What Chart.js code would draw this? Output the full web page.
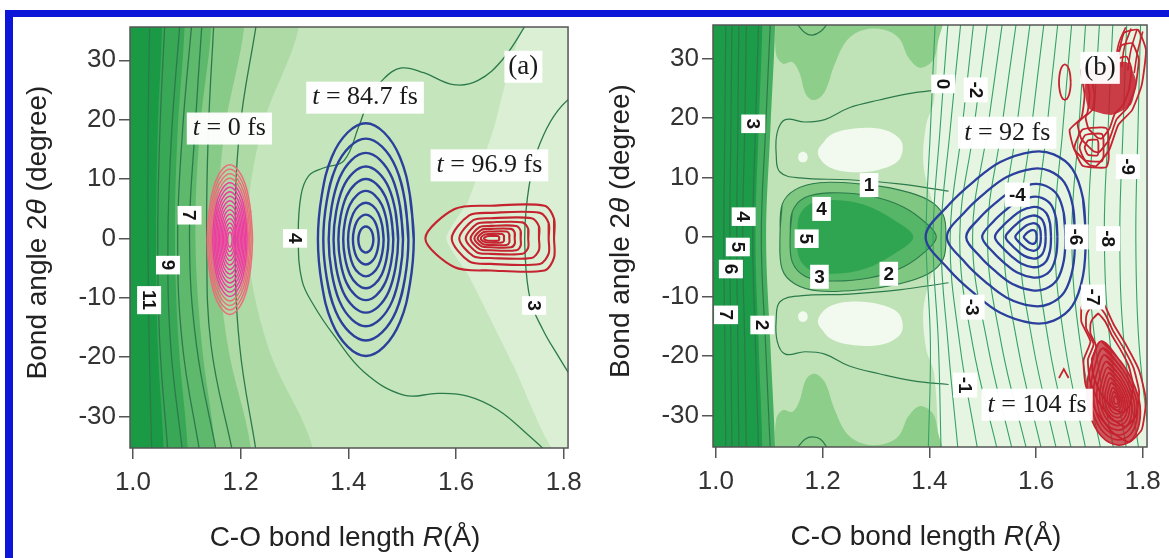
<!DOCTYPE html>
<html>
<head>
<meta charset="utf-8">
<script src="https://cdn.jsdelivr.net/npm/chart.js@4.4.1/dist/chart.umd.min.js"></script>
<style>
  html, body { margin: 0; padding: 0; background: #fff; }
  #stage { position: relative; width: 1169px; height: 558px; overflow: hidden; background: #fff; }
  #panelA { position: absolute; left: 0; top: 0; }
  #panelB { position: absolute; left: 590px; top: 0; }
  .bar { position: absolute; background: #0b16d8; }
  .bar.top { left: 5px; top: 10px; width: 1164px; height: 7px; }
  .bar.left { left: 5px; top: 10px; width: 8px; height: 548px; }
</style>
</head>
<body>
<div id="stage">
  <canvas id="panelA" width="590" height="558"></canvas>
  <canvas id="panelB" width="579" height="558"></canvas>
  <div class="bar top"></div>
  <div class="bar left"></div>
</div>
<script>
// ---------- axes ----------
const rTicks = [1.0, 1.2, 1.4, 1.6, 1.8];
const angleTicks = [-30, -20, -10, 0, 10, 20, 30];
const rRange = [0.9945, 1.808];
const angleRange = [-35.3, 35.6];

// angles (degree) at which the near-vertical contours are sampled
const sweep = [36, 18, 0, -18, -36];

// ---------- panel (a): potential surface ----------
const aBaseColor = '#c5e6bc';
const aBandColors = ['#1b9a46', '#38a857', '#5fb96c', '#88ca87', '#aedaa6'];
const aBandEdges = [
  [1.054, 1.046, 1.043, 1.046, 1.057],
  [1.096, 1.083, 1.078, 1.085, 1.102],
  [1.146, 1.124, 1.116, 1.128, 1.153],
  [1.207, 1.170, 1.157, 1.176, 1.220],
  [1.309, 1.238, 1.213, 1.250, 1.336]
];
const aWedgeR = [1.734, 1.900, 1.900, 1.789, 1.706, 1.623, 1.582, 1.623, 1.669];
const aWedgeAngle = [36.6, 36.6, -36.6, -36.6, -21.3, -6.2, 0, 6.4, 18.2];
const aWedgeColor = '#daefd4';

// contour levels 11 ... 5 on the repulsive wall
const aWallLines = [
  [1.031, 1.028, 1.028, 1.030, 1.035],
  [1.059, 1.050, 1.046, 1.050, 1.065],
  [1.087, 1.072, 1.065, 1.070, 1.092],
  [1.109, 1.092, 1.083, 1.092, 1.124],
  [1.128, 1.115, 1.105, 1.118, 1.155],
  [1.150, 1.140, 1.137, 1.145, 1.185],
  [1.229, 1.198, 1.190, 1.198, 1.229]
];
const aLine4R = [1.734, 1.688, 1.641, 1.595, 1.540, 1.499, 1.466, 1.438, 1.420, 1.392, 1.355, 1.327, 1.312,
  1.307, 1.314, 1.336, 1.373, 1.429, 1.503, 1.567, 1.623, 1.678, 1.734, 1.775];
const aLine4Angle = [36.6, 30.3, 26.6, 25.9, 27.9, 28.7, 26.9, 23.2, 19.0, 13.1, 11.9, 10.6, 7.2,
  0, -7.1, -11.3, -16.3, -22.5, -26.4, -26.1, -26.6, -28.9, -33.1, -36.5];
const aLine3R = [1.826, 1.789, 1.762, 1.743, 1.730, 1.728, 1.738, 1.762, 1.789, 1.823];
const aLine3Angle = [24.9, 21.5, 17.3, 12.3, 4.7, -2.0, -10.4, -15.5, -19.7, -24.7];

// wave packets in (a)
const pinkCenter = [1.180, -0.2];
const pinkHalf = [0.042, 12.6];
const pinkScale = [1, 0.94, 0.88, 0.82, 0.76, 0.70, 0.64, 0.58, 0.52, 0.46, 0.40, 0.34, 0.28, 0.22, 0.16, 0.10];
const blueACenter = [1.4325, -0.2];
const blueAHalfWidth = [0.089, 0.079, 0.069, 0.060, 0.051, 0.042, 0.033, 0.024, 0.014];
const blueAHalfHeight = [19.6, 17.0, 14.6, 12.3, 10.2, 8.2, 6.2, 4.2, 2.2];
const redACenter = [1.664, 0];
const redALeft = [0.121, 0.072, 0.058, 0.046, 0.037, 0.030, 0.024, 0.018, 0.012];
const redARight = [0.118, 0.108, 0.090, 0.070, 0.056, 0.045, 0.035, 0.025, 0.016];
const redAUp = [5.5, 4.3, 3.4, 2.7, 2.1, 1.6, 1.15, 0.75, 0.4];
const redADown = [5.4, 4.3, 3.3, 2.6, 2.0, 1.5, 1.1, 0.7, 0.4];

const aTimeText = ['0', '84.7', '96.9'];
const aTimeR = [1.179, 1.431, 1.662];
const aTimeAngle = [18.5, 23.7, 12.3];
const aLabelText = ['11', '9', '7', '4', '3'];
const aLabelR = [1.030, 1.065, 1.105, 1.301, 1.745];
const aLabelAngle = [-10.4, -4.5, 3.9, 0, -11.3];
const aLabelTurn = [true, true, true, true, true];

// ---------- panel (b): potential surface ----------
const bBaseColor = '#bfe3b7';
const bDarkEdge = [1.087, 1.080, 1.074, 1.080, 1.087];
const bStripEdge = [1.111, 1.102, 1.094, 1.102, 1.111];
const bWallLines = [
  [1.0185, 1.0167, 1.0148, 1.0167, 1.0185],
  [1.030, 1.028, 1.026, 1.028, 1.030],
  [1.043, 1.041, 1.039, 1.041, 1.043],
  [1.057, 1.054, 1.050, 1.054, 1.057],
  [1.080, 1.074, 1.069, 1.074, 1.080],
  [1.102, 1.093, 1.085, 1.093, 1.102]
];
const bLobeEdgeR = [1.111, 1.113, 1.126, 1.143, 1.156, 1.169, 1.185, 1.204, 1.222, 1.246, 1.278, 1.315, 1.343, 1.361, 1.383, 1.407, 1.417, 1.426];
const bLobeEdgeAngle = [36.5, 30.6, 29.1, 29.4, 27.7, 23.9, 23.0, 24.4, 28.9, 33.1, 34.8, 34.8, 33.4, 30.1, 28.4, 29.7, 33.1, 36.5];
const bBlobR = [1.191, 1.213, 1.259, 1.315, 1.348, 1.343, 1.306, 1.250, 1.209];
const bBlobAngle = [14.3, 17.0, 18.2, 18.0, 16.0, 12.9, 11.3, 10.9, 11.9];
const bDotCenter = [1.163, 13.4];
const bBracketR = [1.436, 1.370, 1.306, 1.250, 1.204, 1.167, 1.130, 1.115, 1.113, 1.120, 1.157, 1.250, 1.343, 1.436];
const bBracketAngle = [24.8, 24.2, 23.0, 21.7, 19.7, 19.3, 19.7, 17.6, 13.8, 10.9, 9.9, 9.6, 8.9, 7.7];
const bLobeAR = [1.120, 1.124, 1.148, 1.194, 1.269, 1.343, 1.398, 1.426, 1.431];
const bLobeAAngle = [0, 5.4, 7.9, 9.1, 8.9, 7.9, 6.2, 3.7, 0];
const bLobeBR = [1.139, 1.143, 1.167, 1.213, 1.287, 1.352, 1.398, 1.413];
const bLobeBAngle = [0, 4.2, 6.6, 7.4, 6.9, 5.0, 2.0, 0];
const bLobeCR = [1.152, 1.157, 1.180, 1.222, 1.278, 1.333, 1.370];
const bLobeCAngle = [0, 3.7, 5.7, 6.2, 5.4, 2.9, 0];
const bPaleR = [1.417, 1.409, 1.394, 1.389, 1.407, 1.426, 1.407, 1.389, 1.394, 1.409, 1.417];
const bPaleAngle = [36.5, 23, 18.8, 12.1, 5.4, 0, -5.4, -12.1, -18.8, -23, -36.5];
const bArcR = [1.152, 1.167, 1.181, 1.196, 1.209];
const bArcTopAngle = [35.8, 34.3, 33.9, 34.5, 35.8];
const bArcBottomAngle = [-35.5, -34.0, -33.6, -34.0, -35.5];
// contour levels 0 ... -7.5 on the product side
const bPaleLines = [
  [1.411, 1.402, 1.394, 1.402, 1.398],
  [1.435, 1.420, 1.407, 1.417, 1.422],
  [1.459, 1.439, 1.422, 1.435, 1.454],
  [1.483, 1.461, 1.439, 1.457, 1.491],
  [1.509, 1.483, 1.457, 1.481, 1.528],
  [1.537, 1.509, 1.481, 1.509, 1.556],
  [1.563, 1.535, 1.509, 1.535, 1.583],
  [1.589, 1.563, 1.539, 1.565, 1.611],
  [1.615, 1.591, 1.569, 1.594, 1.639],
  [1.641, 1.620, 1.602, 1.624, 1.667],
  [1.667, 1.650, 1.635, 1.654, 1.694],
  [1.693, 1.680, 1.667, 1.683, 1.722],
  [1.719, 1.707, 1.698, 1.711, 1.746],
  [1.744, 1.735, 1.728, 1.739, 1.770],
  [1.770, 1.763, 1.757, 1.765, 1.793],
  [1.796, 1.791, 1.787, 1.793, 1.815]
];

// wave packets in (b)
const blueBCenter = [1.593, 0];
const blueBExtent = [0.20, 0.10, 14.3, 14.5];
const blueBScale = [1, 0.8, 0.62, 0.47, 0.35, 0.25, 0.16, 0.08];
const redUpR = [1.700, 1.672, 1.663, 1.685, 1.691, 1.685, 1.722, 1.754, 1.765, 1.791, 1.806, 1.798, 1.780, 1.754, 1.737, 1.713];
const redUpAngle = [12.1, 14.6, 18.0, 20.0, 23.9, 28.1, 29.4, 31.1, 34.3, 34.8, 31.4, 25.5, 21.3, 18.8, 14.6, 11.9];
const redUpCenter = [1.738, 23.5];
const redUpScale = [1, 0.8, 0.6];
const redUpCoreR = [1.694, 1.769, 1.787, 1.778, 1.741, 1.698];
const redUpCoreAngle = [28.1, 29.4, 26.4, 22.2, 20.5, 21.7];
const redUpLobeCenter = [1.704, 15.0];
const redUpLobeHalf = [0.032, 3.3];
const redUpLobeScale = [1, 0.7, 0.4];
const redStreakR = [[1.748, 1.755, 1.768], [1.760, 1.766, 1.778], [1.772, 1.778, 1.789], [1.784, 1.790, 1.800]];
const redStreakAngle = [[29.0, 32.5, 35.2], [28.5, 32.0, 35.0], [28.0, 31.5, 34.8], [27.5, 31.0, 34.5]];
const redDotCenter = [1.654, 26.0];
const redDotHalf = [0.011, 3.0];
const redLowR = [1.691, 1.707, 1.728, 1.746, 1.769, 1.793, 1.806, 1.798, 1.774, 1.743, 1.713, 1.693, 1.689, 1.702, 1.685, 1.685];
const redLowAngle = [-10.6, -9.2, -11.4, -14.8, -18.2, -22.4, -27.4, -32.4, -34.5, -32.8, -29.4, -24.9, -20.7, -17.6, -14.3, -11.9];
const redLowCenter = [1.735, -20];
const redLowScale = [1, 0.82, 0.66];
const redDropCenter = [1.750, -27.5];
const redDropExtent = [0.055, 0.045, 10.0, 7.5];
const redDropScale = [1, 0.88, 0.77, 0.66, 0.56, 0.47, 0.38, 0.3, 0.22, 0.15, 0.08];
const redHatR = [1.643, 1.652, 1.661];
const redHatAngle = [-23.7, -22.2, -23.7];

const bTimeText = ['92', '104'];
const bTimeR = [1.546, 1.602];
const bTimeAngle = [17.5, -28.2];
const bLabelText = ['3', '4', '5', '6', '7', '2', '1', '4', '5', '3', '2', '0', '-2', '-4', '-6', '-8', '-9', '-7', '-3', '-1'];
const bLabelR = [1.070, 1.052, 1.041, 1.028, 1.019, 1.087, 1.287, 1.198, 1.170, 1.194, 1.324, 1.426, 1.487, 1.565, 1.676, 1.735, 1.772, 1.707, 1.481, 1.467];
const bLabelAngle = [19.0, 3.4, -1.7, -5.4, -13.1, -14.8, 8.7, 4.7, -0.3, -6.7, -6.2, 25.7, 24.7, 7.1, 0, -0.3, 11.8, -10.1, -11.8, -24.9];
const bLabelTurn = [true, true, true, true, true, true, false, false, true, false, false, true, true, false, true, true, true, true, true, true];

// outlines of the packet contours (unit shapes)
const ellipseOutline = [[1, 0], [0.92, 0.38], [0.71, 0.71], [0.38, 0.92], [0, 1], [-0.38, 0.92], [-0.71, 0.71], [-0.92, 0.38],
  [-1, 0], [-0.92, -0.38], [-0.71, -0.71], [-0.38, -0.92], [0, -1], [0.38, -0.92], [0.71, -0.71], [0.92, -0.38]];
const slabOutline = [[1, 0], [1, 0.6], [0.85, 1], [0, 1], [-0.55, 0.9], [-1, 0], [-0.55, -0.9], [0, -1], [0.85, -1], [1, -0.6]];
const arrowOutline = [[1, 0], [0.95, 0.45], [0.75, 0.8], [0.4, 0.97], [0, 1], [-0.3, 0.88], [-0.55, 0.65], [-0.78, 0.38],
  [-1, 0], [-0.78, -0.38], [-0.55, -0.65], [-0.3, -0.88], [0, -1], [0.4, -0.97], [0.75, -0.8], [0.95, -0.45]];
const dropOutline = [[-0.5, 1], [0.3, 0.6], [0.9, 0.1], [1, -0.4], [0.7, -0.85], [0.1, -1], [-0.5, -0.8], [-0.9, -0.3], [-1, 0.2], [-0.85, 0.6]];

// ---------- helpers ----------
const toPts = (rs, as) => rs.map((r, i) => ({x: r, y: as[i]}));
const loop = pts => pts.concat([pts[0], pts[1]]);
const sweepPts = rs => toPts(rs, sweep);

function ringAt(outline, c, left, right, up, down) {
  return loop(outline.map(([u, v]) => ({
    x: c[0] + u * (u < 0 ? left : right),
    y: c[1] + v * (v > 0 ? up : down)
  })));
}
function shrink(rs, as, c, s) {
  return loop(rs.map((r, i) => ({x: c[0] + (r - c[0]) * s, y: c[1] + (as[i] - c[1]) * s})));
}
function mirrorLoop(rs, as) {
  const top = toPts(rs, as);
  const bottom = toPts(rs.slice(1, -1).reverse(), as.slice(1, -1).reverse().map(a => -a));
  return loop(top.concat(bottom));
}
// region between the left edge and a sampled contour
function leftOf(edge) {
  return loop([{x: 0.9, y: 50}, {x: edge[0], y: 50}].concat(sweepPts(edge), [{x: edge[4], y: -50}, {x: 0.9, y: -50}]));
}

const line = (pts, color, width, tension = 0.4) => ({
  data: pts, showLine: true, fill: false, borderColor: color, borderWidth: width,
  pointRadius: 0, pointHoverRadius: 0, tension
});
const patch = (pts, color, tension = 0.35) => ({
  data: pts, showLine: true, fill: 'shape', backgroundColor: color, borderColor: 'rgba(0,0,0,0)',
  borderWidth: 0, pointRadius: 0, pointHoverRadius: 0, tension
});
const fullRect = color => patch(loop([{x: 0.9, y: 50}, {x: 1.9, y: 50}, {x: 1.9, y: -50}, {x: 0.9, y: -50}]), color, 0);

const contourGreen = '#2c7a4b';
const paleGreen = '#35a267';
const blueInk = '#2b3f9c';
const redInk = '#c4232f';

// ---------- datasets, bottom layer first ----------
const setsA = [];
setsA.push(fullRect(aBaseColor));
setsA.push(patch(loop(toPts(aWedgeR, aWedgeAngle)), aWedgeColor, 0.2));
for (let i = aBandEdges.length - 1; i >= 0; i--) setsA.push(patch(leftOf(aBandEdges[i]), aBandColors[i]));
aWallLines.forEach(rs => setsA.push(line(sweepPts(rs), contourGreen, 1.3)));
setsA.push(line(toPts(aLine4R, aLine4Angle), contourGreen, 1.3));
setsA.push(line(toPts(aLine3R, aLine3Angle), contourGreen, 1.3));
pinkScale.forEach((s, i) => setsA.push(line(
  ringAt(ellipseOutline, pinkCenter, pinkHalf[0] * s, pinkHalf[0] * s, pinkHalf[1] * s, pinkHalf[1] * s),
  i < 4 ? '#e8707a' : '#ee3d9e', 1.5)));
blueAHalfWidth.forEach((w, i) => setsA.push(line(
  ringAt(ellipseOutline, blueACenter, w, w, blueAHalfHeight[i], blueAHalfHeight[i]), blueInk, 2.4)));
redALeft.forEach((l, i) => setsA.push(line(
  ringAt(slabOutline, redACenter, l, redARight[i], redAUp[i], redADown[i]), redInk, 2.1, 0.3)));

const setsB = [];
setsB.push(fullRect(bBaseColor));
setsB.push(patch(loop([{x: 1.417, y: 50}].concat(toPts(bPaleR, bPaleAngle), [{x: 1.417, y: -50}, {x: 1.9, y: -50}, {x: 1.9, y: 50}])), '#e6f5e2'));
const lobeTop = toPts(bLobeEdgeR, bLobeEdgeAngle).concat([{x: 1.426, y: 50}, {x: 1.111, y: 50}]);
const lobeBottom = toPts(bLobeEdgeR, bLobeEdgeAngle.map(a => -a)).concat([{x: 1.426, y: -50}, {x: 1.111, y: -50}]);
setsB.push(patch(loop(lobeTop), '#8dce8a'));
setsB.push(patch(loop(lobeBottom), '#8dce8a'));
setsB.push(patch(loop(toPts(bBlobR, bBlobAngle)), '#f2faef'));
setsB.push(patch(loop(toPts(bBlobR, bBlobAngle.map(a => -a))), '#f2faef'));
setsB.push(patch(ringAt(ellipseOutline, bDotCenter, 0.009, 0.009, 0.9, 0.9), '#f2faef'));
setsB.push(patch(ringAt(ellipseOutline, [bDotCenter[0], -bDotCenter[1]], 0.009, 0.009, 0.9, 0.9), '#f2faef'));
setsB.push({...patch(mirrorLoop(bLobeAR, bLobeAAngle), '#80c781'), borderColor: contourGreen, borderWidth: 1.1});
setsB.push({...patch(mirrorLoop(bLobeBR, bLobeBAngle), '#55b667'), borderColor: contourGreen, borderWidth: 1.1});
setsB.push(patch(mirrorLoop(bLobeCR, bLobeCAngle), '#2fa552'));
setsB.push(patch(leftOf(bStripEdge), '#45af5f'));
setsB.push(patch(leftOf(bDarkEdge), '#1c9b48'));
bWallLines.forEach(rs => setsB.push(line(sweepPts(rs), contourGreen, 1.2)));
setsB.push(line(toPts(bBracketR, bBracketAngle), contourGreen, 1.2));
setsB.push(line(toPts(bBracketR, bBracketAngle.map(a => -a)), contourGreen, 1.2));
setsB.push(line(toPts(bArcR, bArcTopAngle), contourGreen, 1.2));
setsB.push(line(toPts(bArcR, bArcBottomAngle), contourGreen, 1.2));
bPaleLines.forEach(rs => setsB.push(line(sweepPts(rs), paleGreen, 1.1)));
blueBScale.forEach(s => setsB.push(line(
  ringAt(arrowOutline, blueBCenter, blueBExtent[0] * s, blueBExtent[1] * s, blueBExtent[2] * s, blueBExtent[3] * s), blueInk, 2.3, 0.35)));
// upper product lobe
setsB.push(patch(loop(toPts(redUpCoreR, redUpCoreAngle)), 'rgba(196,28,42,0.85)', 0.2));
redUpScale.forEach(s => setsB.push(line(shrink(redUpR, redUpAngle, redUpCenter, s), redInk, 1.8, 0.15)));
redUpLobeScale.forEach(s => setsB.push(line(
  ringAt(slabOutline, redUpLobeCenter, redUpLobeHalf[0] * s, redUpLobeHalf[0] * s, redUpLobeHalf[1] * s, redUpLobeHalf[1] * s), redInk, 1.8, 0.2)));
redStreakR.forEach((rs, i) => setsB.push(line(toPts(rs, redStreakAngle[i]), redInk, 1.6)));
setsB.push(line(ringAt(ellipseOutline, redDotCenter, redDotHalf[0], redDotHalf[0], redDotHalf[1], redDotHalf[1]), redInk, 1.8, 0.1));
// lower product lobe
redLowScale.forEach(s => setsB.push(line(shrink(redLowR, redLowAngle, redLowCenter, s), redInk, 1.8, 0.15)));
setsB.push(patch(ringAt(dropOutline, redDropCenter, redDropExtent[0], redDropExtent[1], redDropExtent[2], redDropExtent[3]), 'rgba(196,28,42,0.72)', 0.35));
redDropScale.forEach(s => setsB.push(line(
  ringAt(dropOutline, redDropCenter, redDropExtent[0] * s, redDropExtent[1] * s, redDropExtent[2] * s, redDropExtent[3] * s), redInk, 1.7, 0.35)));
setsB.push(line(toPts(redHatR, redHatAngle), redInk, 1.8, 0));

// ---------- text drawn on the panels ----------
function drawRuns(ctx, runs, cx, cy) {
  let total = 0;
  runs.forEach(r => { ctx.font = r.font; total += ctx.measureText(r.text).width; });
  let x = cx - total / 2;
  ctx.textAlign = 'left';
  ctx.textBaseline = 'middle';
  runs.forEach(r => { ctx.font = r.font; ctx.fillText(r.text, x, cy); x += ctx.measureText(r.text).width; });
  return total;
}
function runsWidth(ctx, runs) {
  return runs.reduce((w, r) => { ctx.font = r.font; return w + ctx.measureText(r.text).width; }, 0);
}

const sans = 'px "Liberation Sans", Arial, sans-serif';
const serif = 'px "Liberation Serif", "Times New Roman", serif';

const panelDecor = {
  id: 'panelDecor',
  afterDatasetsDraw(chart, args, opts) {
    const {ctx, scales: {x, y}} = chart;
    // contour level labels
    opts.labelText.forEach((t, i) => {
      ctx.save();
      ctx.translate(x.getPixelForValue(opts.labelR[i]), y.getPixelForValue(opts.labelAngle[i]));
      if (opts.labelTurn[i]) ctx.rotate(Math.PI / 2);
      ctx.font = 'bold 19' + sans;
      const w = ctx.measureText(t).width;
      ctx.fillStyle = '#ffffff';
      ctx.fillRect(-w / 2 - 4, -12, w + 8, 24);
      ctx.fillStyle = '#151515';
      ctx.textAlign = 'center';
      ctx.textBaseline = 'middle';
      ctx.fillText(t, 0, 1);
      ctx.restore();
    });
    // time stamps of the packets
    opts.timeText.forEach((t, i) => {
      const runs = [{text: 't', font: 'italic 26' + serif}, {text: ' = ' + t + ' fs', font: '26' + serif}];
      const cx = x.getPixelForValue(opts.timeR[i]);
      const cy = y.getPixelForValue(opts.timeAngle[i]);
      const w = runsWidth(ctx, runs);
      ctx.save();
      ctx.fillStyle = 'rgba(255,255,255,0.96)';
      ctx.fillRect(cx - w / 2 - 6, cy - 16, w + 12, 32);
      ctx.fillStyle = '#1a1a1a';
      drawRuns(ctx, runs, cx, cy);
      ctx.restore();
    });
    // panel tag
    ctx.save();
    const tx = x.getPixelForValue(opts.tag[1]);
    const ty = y.getPixelForValue(opts.tag[2]);
    ctx.font = '27' + serif;
    const tw = ctx.measureText(opts.tag[0]).width;
    ctx.fillStyle = 'rgba(255,255,255,0.96)';
    ctx.fillRect(tx - tw / 2 - 4, ty - 16, tw + 8, 32);
    ctx.fillStyle = '#1a1a1a';
    ctx.textAlign = 'center';
    ctx.textBaseline = 'middle';
    ctx.fillText(opts.tag[0], tx, ty);
    ctx.restore();
  },
  afterDraw(chart) {
    const {ctx, chartArea: a} = chart;
    ctx.save();
    ctx.strokeStyle = '#555';
    ctx.lineWidth = 1.5;
    ctx.strokeRect(a.left, a.top, a.right - a.left, a.bottom - a.top);
    ctx.fillStyle = '#222';
    drawRuns(ctx, [{text: 'C-O bond length ', font: '28' + sans}, {text: 'R', font: 'italic 28' + sans}, {text: '(\u00c5)', font: '28' + sans}],
      (a.left + a.right) / 2 - 4, a.bottom + 90);
    ctx.translate(a.left - 92, (a.top + a.bottom) / 2 - 5);
    ctx.rotate(-Math.PI / 2);
    drawRuns(ctx, [{text: 'Bond angle 2', font: '28' + sans}, {text: '\u03b8', font: 'italic 28' + sans}, {text: ' (degree)', font: '28' + sans}], 0, 0);
    ctx.restore();
  }
};

function buildPanel(id, sets, decor, geom) {
  const axisGrid = {drawOnChartArea: false, drawTicks: true, tickLength: 11, color: '#555', lineWidth: 1.5};
  const tickFont = {family: '"Liberation Sans", Arial, sans-serif', size: 26};
  return new Chart(document.getElementById(id), {
    type: 'scatter',
    data: {datasets: sets.map((d, i) => ({...d, order: sets.length - i}))},
    options: {
      responsive: false,
      animation: false,
      devicePixelRatio: 1,
      events: [],
      layout: {padding: {left: 0, top: geom.top, right: geom.right, bottom: 0}},
      plugins: {legend: {display: false}, tooltip: {enabled: false}, panelDecor: decor},
      scales: {
        x: {
          type: 'linear', min: rRange[0], max: rRange[1],
          afterBuildTicks: s => { s.ticks = rTicks.map(v => ({value: v})); },
          afterFit: s => { s.height = geom.xAxisHeight; },
          ticks: {font: tickFont, color: '#333', padding: 8, maxRotation: 0, autoSkip: false, callback: v => v.toFixed(1)},
          grid: axisGrid, border: {display: false}
        },
        y: {
          type: 'linear', min: angleRange[0], max: angleRange[1],
          afterBuildTicks: s => { s.ticks = angleTicks.map(v => ({value: v})); },
          afterFit: s => { s.width = geom.yAxisWidth; },
          ticks: {font: tickFont, color: '#333', padding: 3, autoSkip: false, callback: v => String(v)},
          grid: axisGrid, border: {display: false}
        }
      }
    },
    plugins: [panelDecor]
  });
}

buildPanel('panelA', setsA, {
  labelText: aLabelText, labelR: aLabelR, labelAngle: aLabelAngle, labelTurn: aLabelTurn,
  timeText: aTimeText, timeR: aTimeR, timeAngle: aTimeAngle, tag: ['(a)', 1.725, 28.9]
}, {top: 27, right: 20, xAxisHeight: 110, yAxisWidth: 130});

buildPanel('panelB', setsB, {
  labelText: bLabelText, labelR: bLabelR, labelAngle: bLabelAngle, labelTurn: bLabelTurn,
  timeText: bTimeText, timeR: bTimeR, timeAngle: bTimeAngle, tag: ['(b)', 1.72, 28.4]
}, {top: 25, right: 17, xAxisHeight: 111, yAxisWidth: 123});
</script>
</body>
</html>
